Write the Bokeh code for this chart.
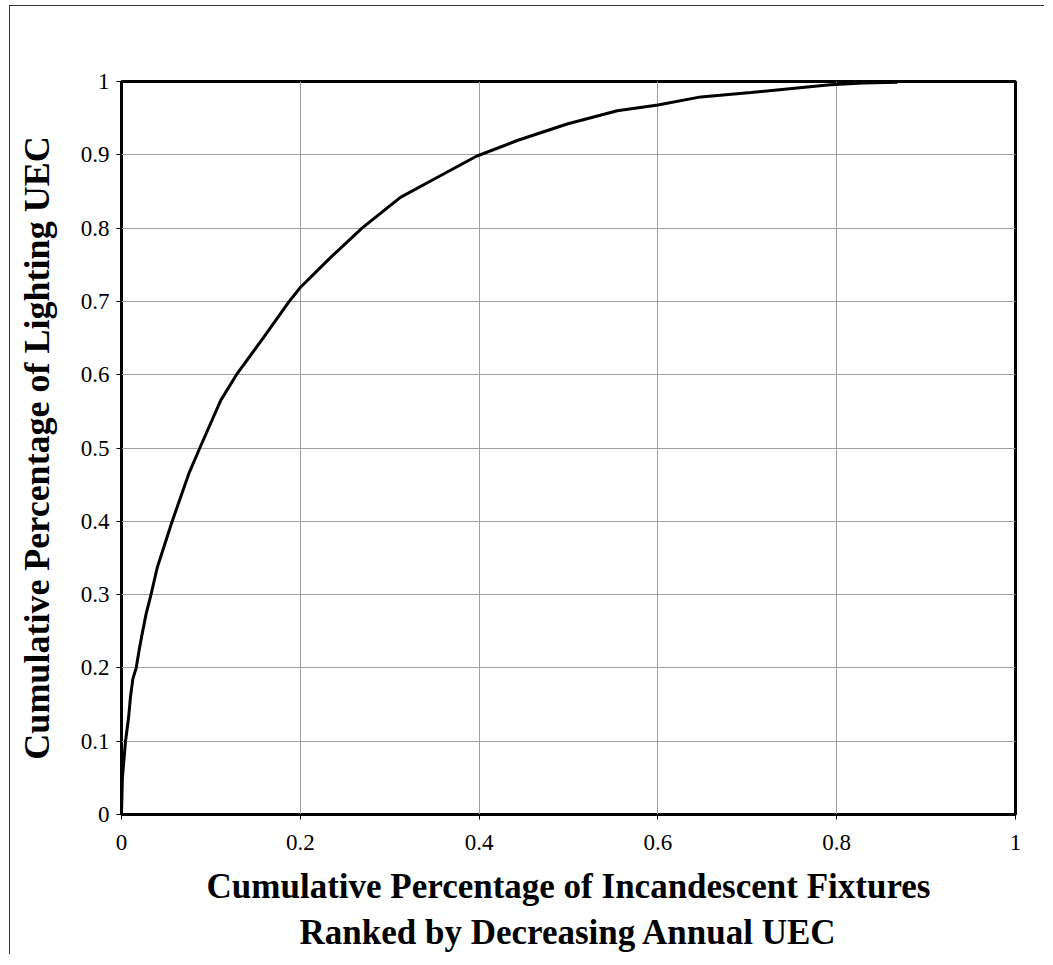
from bokeh.plotting import figure
from bokeh.models import Range1d, FixedTicker
from bokeh.embed import file_html
from bokeh.resources import INLINE

# Data (Lorenz-type cumulative curve)
fixture_share = [0.0, 0.001, 0.0045, 0.008, 0.010, 0.0127, 0.0164, 0.020, 0.0224, 0.0276,
                 0.033, 0.040, 0.0567, 0.0753, 0.0876, 0.111, 0.1286, 0.159, 0.187, 0.200,
                 0.234, 0.269, 0.312, 0.353, 0.397, 0.4426, 0.4985, 0.5545, 0.600, 0.648,
                 0.704, 0.750, 0.793, 0.830, 0.868]
uec_share = [0.0, 0.05, 0.10, 0.133, 0.16, 0.185, 0.20, 0.226, 0.242, 0.274,
             0.30, 0.337, 0.40, 0.465, 0.50, 0.565, 0.60, 0.651, 0.699, 0.719,
             0.760, 0.80, 0.842, 0.869, 0.898, 0.9195, 0.942, 0.960, 0.968, 0.979,
             0.985, 0.9906, 0.9955, 0.998, 0.999]

x_ticks = [0, 0.2, 0.4, 0.6, 0.8, 1.0]
x_tick_labels = ["0", "0.2", "0.4", "0.6", "0.8", "1"]
y_ticks = [0, 0.1, 0.2, 0.3, 0.4, 0.5, 0.6, 0.7, 0.8, 0.9, 1.0]
y_tick_labels = ["0", "0.1", "0.2", "0.3", "0.4", "0.5", "0.6", "0.7", "0.8", "0.9", "1"]

FONT = "Liberation Serif"

p = figure(width=1035, height=949, output_backend="svg", toolbar_location=None,
           x_range=Range1d(0, 1), y_range=Range1d(0, 1),
           min_border_left=111, min_border_top=75, min_border_right=30, min_border_bottom=141)
# outer page border: only its left and top edges are visible in the reference
p.styles = {"margin-left": "9px", "margin-top": "5px",
            "border-left": "1px solid #333333", "border-top": "1px solid #333333"}

p.outline_line_color = "black"
p.outline_line_width = 3
p.background_fill_color = "white"
p.border_fill_color = "white"

p.xgrid.grid_line_color = "#a0a0a0"
p.ygrid.grid_line_color = "#a0a0a0"
p.xgrid.grid_line_width = 1
p.ygrid.grid_line_width = 1

p.xaxis.ticker = FixedTicker(ticks=x_ticks)
p.yaxis.ticker = FixedTicker(ticks=y_ticks)
p.xaxis.major_label_overrides = {t: l for t, l in zip(x_ticks, x_tick_labels)}
p.yaxis.major_label_overrides = {t: l for t, l in zip(y_ticks, y_tick_labels)}

for ax in (p.xaxis[0], p.yaxis[0]):
    ax.axis_line_color = "black"
    ax.axis_line_width = 1
    ax.major_tick_line_color = "black"
    ax.major_tick_line_width = 1
    ax.major_tick_out = 5
    ax.major_tick_in = 0
    ax.minor_tick_line_color = None
    ax.major_label_text_font = FONT
    ax.major_label_text_font_size = "23px"
    ax.major_label_text_color = "black"
    ax.axis_label_text_font = FONT
    ax.axis_label_text_font_style = "bold"
    ax.axis_label_text_color = "black"

p.xaxis.axis_label_text_font_size = "35px"
p.yaxis.axis_label_text_font_size = "36px"
p.xaxis.major_label_standoff = 15
p.yaxis.major_label_standoff = 7
p.xaxis.axis_label = "Cumulative Percentage of Incandescent Fixtures\nRanked by Decreasing Annual UEC"
p.yaxis.axis_label = "Cumulative Percentage of Lighting UEC"
p.xaxis.axis_label_standoff = 14
p.yaxis.axis_label_standoff = 21

p.line(fixture_share, uec_share, line_color="black", line_width=3)

open("out.html", "w").write(file_html(p, INLINE))
